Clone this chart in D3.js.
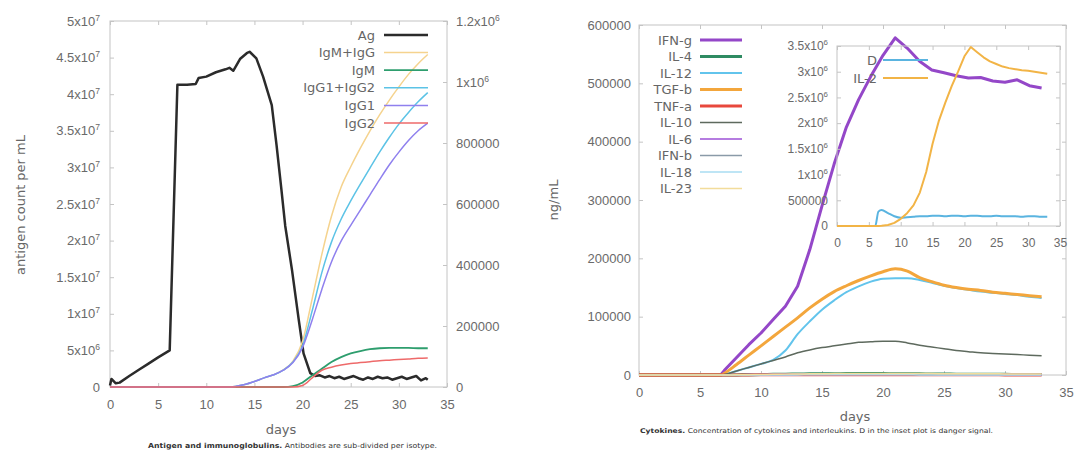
<!DOCTYPE html>
<html>
<head>
<meta charset="utf-8">
<script src="https://cdn.jsdelivr.net/npm/d3@7"></script>
<style>
  body { margin: 0; background: #fff; }
  svg { display: block; font-family: "DejaVu Sans", sans-serif; }
  .tick text { fill: #6a6a6a; font-size: 13px; }
  .tick line { stroke: #c4c4c4; }
  .inset .tick text { font-size: 12px; }
  .lg { fill: #666; font-size: 13px; }
  .ttl { fill: #666; font-size: 13px; }
</style>
</head>
<body>
<svg id="chart" width="1080" height="452"></svg>
<script>
// --- data: antigen & immunoglobulins (left panel) ---------------------------

const agDays = [0, 0.15, 0.3, 0.6, 1, 2, 3, 4, 5, 6.2, 7.0, 8, 8.9, 9.2, 10, 11, 12, 12.4, 12.8,
  13.5, 14.2, 14.5, 15.2, 15.9, 16.8, 17.3, 17.8, 18.2, 18.9, 19.6, 20.1, 20.8, 21.3,
  21.8, 22.3, 22.8, 23.3, 23.8, 24.3, 24.8, 25.3, 25.8, 26.3, 26.8, 27.3, 27.8, 28.3,
  28.8, 29.3, 29.8, 30.3, 30.8, 31.3, 31.8, 32.3, 32.8, 33];
const agVals = [0.2e6, 1.1e6, 0.9e6, 0.5e6, 0.6e6, 1.5e6, 2.35e6, 3.2e6, 4.05e6, 5.0e6, 41.3e6,
  41.3e6, 41.4e6, 42.2e6, 42.4e6, 43.0e6, 43.4e6, 43.6e6, 43.2e6, 44.8e6, 45.6e6, 45.8e6,
  44.9e6, 42.4e6, 38.5e6, 33e6, 27e6, 22e6, 16e6, 9.2e6, 4.6e6, 1.9e6, 1.5e6,
  1.6e6, 1.3e6, 1.5e6, 1.2e6, 1.4e6, 1.1e6, 1.3e6, 1.5e6, 1.2e6, 1.0e6, 1.3e6, 1.1e6,
  1.4e6, 1.2e6, 1.3e6, 1.0e6, 1.2e6, 1.4e6, 1.1e6, 1.3e6, 1.5e6, 0.9e6, 1.2e6, 1.0e6];

// integer days 0..33
const abDays = d3.range(0, 34);
const igmIgg = [0,0,0,0,0,0,0,0,0,0,0,0,0, 2e3, 8e3, 18e3, 30e3, 40e3, 56e3, 85e3, 150e3,
  290e3, 435e3, 560e3, 655e3, 722e3, 783e3, 840e3, 892e3, 940e3, 984e3, 1025e3, 1060e3, 1090e3];
const igm = [0,0,0,0,0,0,0,0,0,0,0,0,0,0,0,0,0,0, 0, 3e3, 15e3, 38e3, 60e3, 82e3, 98e3,
  110e3, 118e3, 124e3, 127e3, 128e3, 128e3, 128e3, 127e3, 127e3];
const igg1Igg2 = [0,0,0,0,0,0,0,0,0,0,0,0,0, 2e3, 8e3, 18e3, 30e3, 40e3, 55e3, 82e3, 135e3,
  250e3, 375e3, 475e3, 550e3, 610e3, 665e3, 718e3, 770e3, 818e3, 862e3, 900e3, 935e3, 965e3];
const igg1 = [0,0,0,0,0,0,0,0,0,0,0,0,0, 2e3, 8e3, 18e3, 30e3, 40e3, 55e3, 80e3, 130e3,
  220e3, 320e3, 410e3, 478e3, 530e3, 580e3, 630e3, 680e3, 728e3, 770e3, 808e3, 840e3, 865e3];
const igg2 = [0,0,0,0,0,0,0,0,0,0,0,0,0,0,0,0,0,0,0,0, 5e3, 30e3, 55e3, 65e3, 72e3, 77e3,
  80e3, 83e3, 86e3, 88e3, 90e3, 92e3, 94e3, 95e3];

const agTicks = [0, 5e6, 1e7, 1.5e7, 2e7, 2.5e7, 3e7, 3.5e7, 4e7, 4.5e7, 5e7];
const abTicks = [0, 200000, 400000, 600000, 800000, 1e6, 1.2e6];
const dayTicks = [0, 5, 10, 15, 20, 25, 30, 35];

// --- data: cytokines (right panel) ------------------------------------------

const cytDays = [0, 6.7, 7, 8, 9, 10, 11, 12, 13, 14, 15, 16, 17, 18, 19, 20, 21, 22, 23, 24,
  25, 26, 27, 28, 29, 30, 31, 32, 33];
const ifnG = [0, 0, 8e3, 30e3, 52e3, 72e3, 95e3, 118e3, 152e3, 215e3, 290e3, 362e3, 425e3,
  472e3, 512e3, 548e3, 578e3, 560e3, 538e3, 523e3, 518e3, 513e3, 509e3, 510e3, 504e3,
  502e3, 506e3, 496e3, 492e3];
const il4 = [0, 0, 0, 200, 500, 800, 1200, 1500, 1800, 2000, 2200, 2300, 2400, 2500, 2500,
  2400, 2300, 2200, 2000, 1800, 1600, 1500, 1400, 1300, 1200, 1100, 1000, 1000, 900];
const il12 = [0, 0, 1e3, 7e3, 13e3, 19e3, 26e3, 42e3, 70e3, 92e3, 112e3, 128e3, 142e3, 152e3,
  160e3, 165e3, 166e3, 166e3, 163e3, 158e3, 153e3, 149e3, 146e3, 143e3, 141e3, 139e3,
  137e3, 134e3, 132e3];
const tgfB = [0, 0, 3e3, 18e3, 34e3, 50e3, 66e3, 82e3, 98e3, 115e3, 130e3, 143e3, 153e3,
  162e3, 170e3, 177e3, 182e3, 178e3, 167e3, 160e3, 154e3, 150e3, 147e3, 145e3, 142e3,
  140e3, 138e3, 136e3, 134e3];
const tnfA = [0, 0, 0, 100, 200, 300, 400, 500, 500, 600, 600, 600, 600, 600, 600, 500, 500,
  500, 400, 400, 400, 300, 300, 300, 300, 200, 200, 200, 200];
const il10 = [0, 0, 1e3, 7e3, 13e3, 19e3, 25e3, 31e3, 38e3, 43e3, 47e3, 50e3, 53e3, 56e3,
  57e3, 58e3, 58e3, 55e3, 51e3, 48e3, 45e3, 42e3, 40e3, 38e3, 37e3, 36e3, 35e3, 34e3, 33e3];
const il6 = [0, 0, 0, 100, 300, 500, 700, 900, 1100, 1300, 1400, 1500, 1500, 1500, 1500,
  1400, 1400, 1300, 1200, 1100, 1000, 900, 900, 800, 800, 700, 700, 700, 600];
const ifnB = [0, 0, 0, 200, 400, 600, 800, 1000, 1100, 1200, 1300, 1300, 1300, 1300, 1200,
  1200, 1100, 1100, 1000, 1000, 900, 900, 800, 800, 800, 700, 700, 700, 700];
const il18 = [0, 0, 0, 0, 100, 100, 200, 200, 200, 300, 300, 300, 300, 300, 300, 300, 300,
  300, 200, 200, 200, 200, 200, 200, 200, 200, 200, 200, 200];
const il23 = [0, 0, 0, 300, 600, 900, 1200, 1500, 1800, 2000, 2200, 2400, 2500, 2600, 2700,
  2700, 2700, 2600, 2500, 2400, 2300, 2200, 2100, 2000, 2000, 1900, 1900, 1800, 1800];

const cytTicks = [0, 100000, 200000, 300000, 400000, 500000, 600000];

// inset: danger signal and IL-2
const insetDays = [0, 6, 6.5, 7, 8, 9, 10, 11, 12, 13, 14, 15, 16, 17, 18, 19, 20, 21, 22,
  23, 24, 25, 26, 27, 28, 29, 30, 31, 32, 33];
const dangerD = [0, 0, 0.28e6, 0.31e6, 0.25e6, 0.19e6, 0.16e6, 0.17e6, 0.18e6, 0.19e6,
  0.19e6, 0.2e6, 0.2e6, 0.19e6, 0.2e6, 0.2e6, 0.19e6, 0.2e6, 0.2e6, 0.19e6, 0.19e6,
  0.2e6, 0.19e6, 0.19e6, 0.19e6, 0.18e6, 0.19e6, 0.19e6, 0.18e6, 0.18e6];
const il2 = [0, 0, 0, 0.005e6, 0.02e6, 0.06e6, 0.14e6, 0.25e6, 0.4e6, 0.65e6, 1.05e6, 1.6e6,
  2.05e6, 2.4e6, 2.72e6, 3.0e6, 3.3e6, 3.48e6, 3.38e6, 3.28e6, 3.2e6, 3.15e6, 3.1e6,
  3.07e6, 3.05e6, 3.03e6, 3.02e6, 3.0e6, 2.98e6, 2.96e6];
const insetTicks = [0, 500000, 1e6, 1.5e6, 2e6, 2.5e6, 3e6, 3.5e6];

// --- helpers -----------------------------------------------------------------

const svg = d3.select('#chart');

// gnuplot-ish "5x10^7" labels with a real superscript
function fmtTick(text) {
  text.each(function (v) {
    const t = d3.select(this).text(null);
    if (v >= 1e6) {
      const e = Math.floor(Math.log10(v) + 1e-9);
      const m = +(v / Math.pow(10, e)).toFixed(2);
      t.append('tspan').text(m + 'x10');
      t.append('tspan').attr('dy', -5).attr('font-size', '0.66em').text(e);
    } else {
      t.text(v);
    }
  });
}

// plot box plus inward, mirrored ticks
function frame(g, x, y, opt) {
  const [x0, x1] = x.range(), [y0, y1] = y.range();
  g.append('rect')
    .attr('x', x0).attr('y', y1).attr('width', x1 - x0).attr('height', y0 - y1)
    .attr('fill', 'none').attr('stroke', '#c4c4c4');

  g.append('g').attr('transform', `translate(0,${y0})`)
    .call(d3.axisBottom(x).tickValues(dayTicks).tickSizeInner(-4).tickSizeOuter(0).tickPadding(opt.xPad));
  g.append('g').attr('transform', `translate(0,${y1})`)
    .call(d3.axisTop(x).tickValues(dayTicks).tickSizeInner(-4).tickSizeOuter(0).tickFormat(''));
  const left = g.append('g').attr('transform', `translate(${x0},0)`)
    .call(d3.axisLeft(y).tickValues(opt.yTicks).tickSizeInner(-4).tickSizeOuter(0).tickPadding(opt.yPad));
  if (!opt.noRightMirror) {
    g.append('g').attr('transform', `translate(${x1},0)`)
      .call(d3.axisRight(y).tickValues(opt.yTicks).tickSizeInner(-4).tickSizeOuter(0).tickFormat(''));
  }
  g.selectAll('.domain').remove();
  left.selectAll('text').call(fmtTick);
  return g;
}

// each series may carry its own curve (sharp peaks stay linear)
function drawLines(g, x, y, days, series, curve) {
  series.forEach(s => {
    const line = d3.line().curve(s.curve || curve || d3.curveLinear)
      .x((d, i) => x(days[i])).y(d => y(d));
    g.append('path')
      .attr('d', line(s.values))
      .attr('fill', 'none')
      .attr('stroke', s.color)
      .attr('stroke-width', s.w)
      .attr('stroke-linejoin', 'round');
  });
}

function legend(g, items, xText, y0, step, x1, x2) {
  items.forEach((s, i) => {
    const y = y0 + i * step;
    g.append('text').attr('class', 'lg')
      .attr('x', xText).attr('y', y).attr('dy', '0.35em')
      .attr('text-anchor', 'end').text(s.name);
    g.append('line')
      .attr('x1', x1).attr('x2', x2).attr('y1', y).attr('y2', y)
      .attr('stroke', s.color).attr('stroke-width', s.w);
  });
}

// --- left panel: antigen and immunoglobulins --------------------------------

const xL = d3.scaleLinear().domain([0, 35]).range([110, 447]);
const yAg = d3.scaleLinear().domain([0, 5e7]).range([387, 21]);
const yAb = d3.scaleLinear().domain([0, 1.2e6]).range([387, 21]);

const gL = svg.append('g');
frame(gL, xL, yAg, { yTicks: agTicks, xPad: 13, yPad: 10, noRightMirror: true });

const rightAx = gL.append('g').attr('transform', `translate(447,0)`)
  .call(d3.axisRight(yAb).tickValues(abTicks).tickSizeInner(-4).tickSizeOuter(0).tickPadding(9));
rightAx.select('.domain').remove();
rightAx.selectAll('text').call(fmtTick);

const abSeries = [
  { name: 'IgM+IgG',   values: igmIgg,   color: '#f5d38e', w: 1.5 },
  { name: 'IgM',       values: igm,      color: '#2e9e6e', w: 1.8 },
  { name: 'IgG1+IgG2', values: igg1Igg2, color: '#5cc3e6', w: 1.5 },
  { name: 'IgG1',      values: igg1,     color: '#8f80ee', w: 1.5 },
  { name: 'IgG2',      values: igg2,     color: '#ee6a6a', w: 1.5 },
];
const agSeries = { name: 'Ag', values: agVals, color: '#2b2b2b', w: 2.5 };

drawLines(gL, xL, yAg, agDays, [agSeries]);
drawLines(gL, xL, yAb, abDays, abSeries, d3.curveMonotoneX);
legend(gL, [agSeries, ...abSeries], 375, 35, 17.6, 384, 428);

gL.append('text').attr('class', 'ttl')
  .attr('transform', 'translate(20,205) rotate(-90)')
  .attr('text-anchor', 'middle').attr('dy', '0.35em')
  .text('antigen count per mL');
gL.append('text').attr('class', 'ttl')
  .attr('x', 281).attr('y', 429).attr('dy', '0.35em').attr('text-anchor', 'middle')
  .text('days');

const capL = gL.append('text')
  .attr('x', 148).attr('y', 448).attr('font-size', 7).attr('fill', '#333')
  .attr('textLength', 289).attr('lengthAdjust', 'spacingAndGlyphs');
capL.append('tspan').attr('font-weight', 'bold').text('Antigen and immunoglobulins.');
capL.append('tspan').text(' Antibodies are sub-divided per isotype.');

// --- right panel: cytokines --------------------------------------------------

const xR = d3.scaleLinear().domain([0, 35]).range([639, 1066]);
const yC = d3.scaleLinear().domain([0, 600000]).range([375, 25]);

const gR = svg.append('g');
frame(gR, xR, yC, { yTicks: cytTicks, xPad: 12.5, yPad: 8 });

const cytSeries = [
  { name: 'IFN-g', values: ifnG, color: '#9447c8', w: 3, curve: d3.curveLinear },
  { name: 'IL-4',  values: il4,  color: '#2e8b62', w: 3 },
  { name: 'IL-12', values: il12, color: '#62c4ec', w: 2 },
  { name: 'TGF-b', values: tgfB, color: '#f3a63c', w: 3 },
  { name: 'TNF-a', values: tnfA, color: '#e8483c', w: 3 },
  { name: 'IL-10', values: il10, color: '#5e6a5e', w: 1.5 },
  { name: 'IL-6',  values: il6,  color: '#b57ce0', w: 2 },
  { name: 'IFN-b', values: ifnB, color: '#8a9aa8', w: 1.5 },
  { name: 'IL-18', values: il18, color: '#a8dcf2', w: 1.5 },
  { name: 'IL-23', values: il23, color: '#f2dc9a', w: 1.5 },
];
drawLines(gR, xR, yC, cytDays, cytSeries, d3.curveMonotoneX);
legend(gR, cytSeries, 692, 40, 16.5, 700, 742);

gR.append('text').attr('class', 'ttl')
  .attr('transform', 'translate(553,200) rotate(-90)')
  .attr('text-anchor', 'middle').attr('dy', '0.35em')
  .text('ng/mL');
gR.append('text').attr('class', 'ttl')
  .attr('x', 855).attr('y', 416).attr('dy', '0.35em').attr('text-anchor', 'middle')
  .text('days');

const capR = gR.append('text')
  .attr('x', 640).attr('y', 433).attr('font-size', 6.5).attr('fill', '#333')
  .attr('textLength', 353).attr('lengthAdjust', 'spacingAndGlyphs');
capR.append('tspan').attr('font-weight', 'bold').text('Cytokines.');
capR.append('tspan').text(' Concentration of cytokines and interleukins. D in the inset plot is danger signal.');

// inset (transparent, main curves show through)
const xI = d3.scaleLinear().domain([0, 35]).range([837, 1060]);
const yI = d3.scaleLinear().domain([0, 3.5e6]).range([226, 46]);
const gI = svg.append('g').attr('class', 'inset');
frame(gI, xI, yI, { yTicks: insetTicks, xPad: 12, yPad: 9 });

const insetSeries = [
  { name: 'D',    values: dangerD, color: '#5ab4e0', w: 2 },
  { name: 'IL-2', values: il2,     color: '#f2b446', w: 2, curve: d3.curveLinear },
];
drawLines(gI, xI, yI, insetDays, insetSeries, d3.curveMonotoneX);
legend(gI, insetSeries, 877, 60, 18, 883, 928);
</script>
</body>
</html>
